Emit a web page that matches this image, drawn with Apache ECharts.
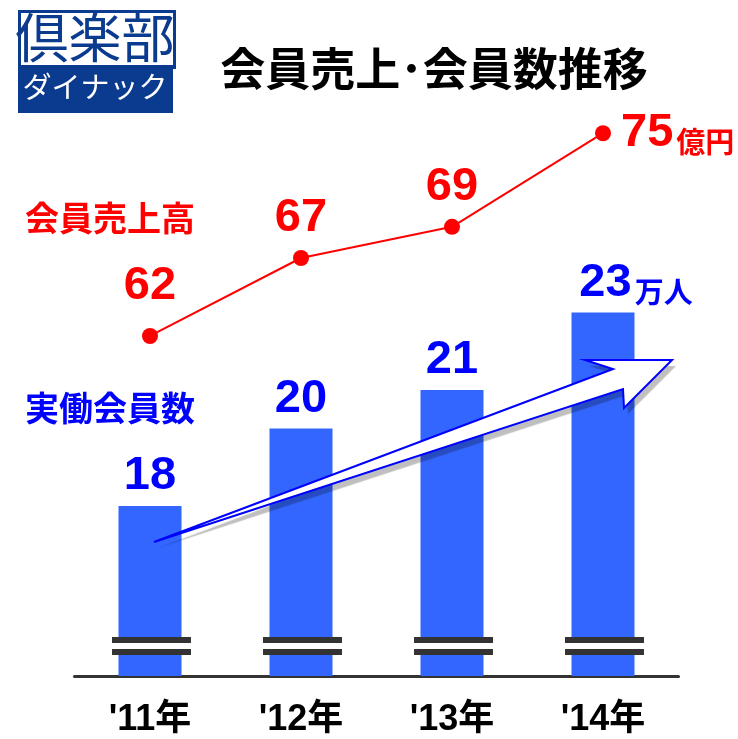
<!DOCTYPE html>
<html>
<head>
<meta charset="utf-8">
<style>
html,body{margin:0;padding:0;background:#fff;}
#chart{width:738px;height:739px;}
</style>
<script src="https://cdn.jsdelivr.net/npm/echarts@6/dist/echarts.min.js"></script>
</head>
<body>
<div id="chart"></div>
<script>
// ---- data ----
const categories = ["'11年", "'12年", "'13年", "'14年"];
const memberCounts = [18, 20, 21, 23];      // 実働会員数 (万人)
const memberSales = [62, 67, 69, 75];       // 会員売上高 (億円)
const countUnit = '万人';
const salesUnit = '億円';
const titleText = '会員売上･会員数推移';
const salesName = '会員売上高';
const countName = '実働会員数';

const barMin = 13.6, barMax = 28.5;
const lineMin = 40.2, lineMax = 77.13;

const NUM_FONT = '"Liberation Sans", "Noto Sans CJK JP", sans-serif';
const CJK_FONT = '"Noto Sans CJK JP", sans-serif';
const RED = '#FF0000';
const BLUE = '#0000FF';
const BAR = '#3366FF';
const LOGO = '#0B3B8F';

const chart = echarts.init(document.getElementById('chart'), null, {renderer: 'canvas'});

const lastIdx = memberCounts.length - 1;

const barData = memberCounts.map((v, i) => i === lastIdx
  ? {value: v, label: {formatter: '{n|' + v + '}{u|' + countUnit + '}', offset: [33, 0]}}
  : {value: v});

const lineData = memberSales.map((v, i) => {
  if (i === lastIdx) return {value: v, label: {position: 'right', distance: 10, formatter: '{n|' + v + '}{u|' + salesUnit + '}'}};
  if (i === 0) return {value: v, label: {offset: [0, -10]}};
  return {value: v};
});

const arrowPts = [[154, 542], [613, 369], [585, 360], [672, 360], [624, 408], [623, 389]];

const option = {
  backgroundColor: '#fff',
  animation: false,
  grid: {left: 74.5, right: 59.5, top: 100, bottom: 63, containLabel: false},
  xAxis: {
    type: 'category',
    data: categories,
    boundaryGap: true,
    axisLine: {show: true, lineStyle: {color: '#333', width: 3}},
    axisTick: {show: false},
    axisLabel: {
      color: '#000', fontSize: 36, fontWeight: 'bold', fontFamily: NUM_FONT, margin: 26
    },
    splitLine: {show: false}
  },
  yAxis: [
    {type: 'value', min: barMin, max: barMax, show: false, splitLine: {show: false}},
    {type: 'value', min: lineMin, max: lineMax, show: false, splitLine: {show: false}}
  ],
  series: [
    {
      type: 'bar',
      yAxisIndex: 0,
      data: barData,
      barWidth: 63,
      itemStyle: {color: BAR},
      z: 2,
      label: {
        show: true, position: 'top', distance: 6,
        color: BLUE, fontSize: 47, fontWeight: 'bold', fontFamily: NUM_FONT,
        formatter: '{n|{c}}',
        rich: {
          n: {color: BLUE, fontSize: 47, fontWeight: 'bold', fontFamily: NUM_FONT, verticalAlign: 'bottom', lineHeight: 47},
          u: {color: BLUE, fontSize: 29, fontWeight: 'bold', fontFamily: CJK_FONT, verticalAlign: 'bottom', lineHeight: 38, padding: [0, 0, 0, 3]}
        }
      }
    },
    {
      type: 'custom',
      yAxisIndex: 0,
      z: 4,
      data: memberCounts.map((v, i) => [i, barMin]),
      renderItem: function (params, api) {
        const p = api.coord([api.value(0), api.value(1)]);
        const w = api.size([1, 0])[0] * 0.523;
        const x = p[0] - w / 2 + 1.5;
        const b = p[1];
        return {
          type: 'group',
          children: [
            {type: 'rect', shape: {x: x, y: b - 39, width: w, height: 18}, style: {fill: '#fff'}},
            {type: 'rect', shape: {x: x, y: b - 39, width: w, height: 6}, style: {fill: '#333'}},
            {type: 'rect', shape: {x: x, y: b - 27, width: w, height: 6}, style: {fill: '#333'}}
          ]
        };
      }
    },
    {
      type: 'line',
      yAxisIndex: 1,
      data: lineData,
      z: 5,
      symbol: 'circle',
      symbolSize: 16,
      lineStyle: {color: RED, width: 2},
      itemStyle: {color: RED},
      label: {
        show: true, position: 'top', distance: 8,
        color: RED, fontSize: 47, fontWeight: 'bold', fontFamily: NUM_FONT,
        formatter: '{n|{c}}',
        rich: {
          n: {color: RED, fontSize: 47, fontWeight: 'bold', fontFamily: NUM_FONT, verticalAlign: 'bottom', lineHeight: 47},
          u: {color: RED, fontSize: 29, fontWeight: 'bold', fontFamily: CJK_FONT, verticalAlign: 'bottom', lineHeight: 38, padding: [0, 0, 0, 3]}
        }
      }
    }
  ],
  graphic: [
    // logo
    {type: 'rect', left: 18, top: 10, shape: {width: 155, height: 56}, style: {fill: '#fff', stroke: LOGO, lineWidth: 3}, z: 10},
    {type: 'text', x: 95, y: 38, style: {text: '倶楽部', fill: LOGO, font: 'normal 53px ' + CJK_FONT, align: 'center', verticalAlign: 'middle'}, z: 11},
    {type: 'rect', left: 18, top: 65, shape: {width: 155, height: 48}, style: {fill: LOGO}, z: 10},
    {type: 'text', x: 95, y: 87, style: {text: 'ダイナック', fill: '#fff', font: 'normal 29px ' + CJK_FONT, align: 'center', verticalAlign: 'middle'}, z: 11},
    // title
    {type: 'text', x: 434, y: 69, style: {text: titleText, fill: '#000', font: 'bold 45px ' + CJK_FONT, align: 'center', verticalAlign: 'middle'}, z: 10},
    // series names
    {type: 'text', x: 110, y: 218, style: {text: salesName, fill: RED, font: 'bold 34px ' + CJK_FONT, align: 'center', verticalAlign: 'middle'}, z: 10},
    {type: 'text', x: 110, y: 408, style: {text: countName, fill: BLUE, font: 'bold 34px ' + CJK_FONT, align: 'center', verticalAlign: 'middle'}, z: 10},
    // trend arrow: shadowed white fill, then blue outline on top
    {
      type: 'polygon', z: 8,
      shape: {points: arrowPts},
      style: {fill: '#fff', stroke: null, shadowColor: 'rgba(0,0,0,0.25)', shadowOffsetX: 4, shadowOffsetY: 6, shadowBlur: 1}
    },
    {
      type: 'polygon', z: 9,
      shape: {points: arrowPts},
      style: {fill: 'none', stroke: BLUE, lineWidth: 2}
    }
  ]
};

chart.setOption(option);
</script>
</body>
</html>
